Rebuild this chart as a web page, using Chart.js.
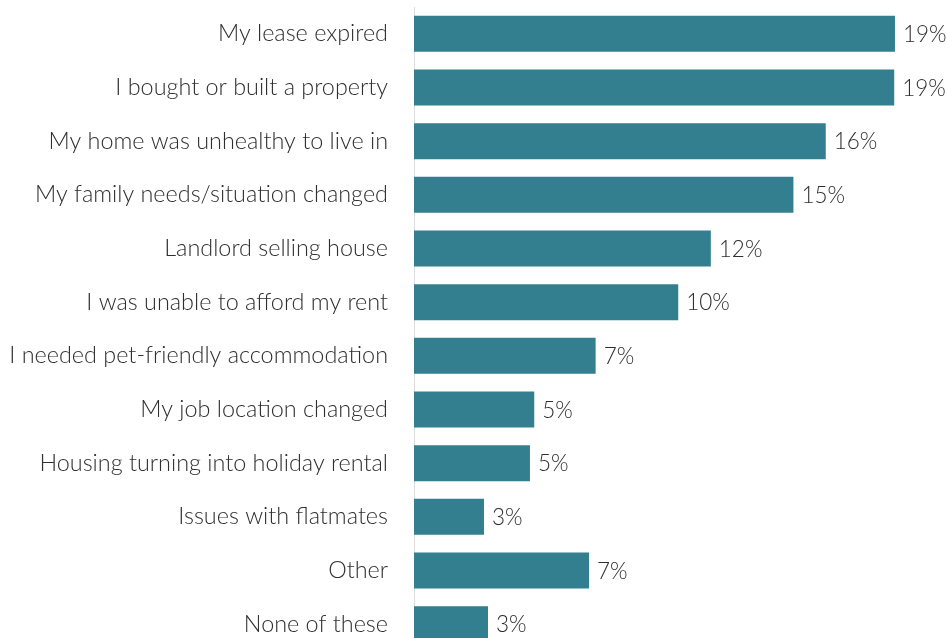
<!DOCTYPE html>
<html>
<head>
<meta charset="utf-8">
<script src="https://cdn.jsdelivr.net/npm/chart.js@4"></script>
<style>
  html, body { margin: 0; padding: 0; background: #fff; overflow: hidden; }
  #wrap { position: relative; width: 946px; height: 660px; }
</style>
</head>
<body>
<div id="wrap"><canvas id="chart"></canvas></div>
<script>
const reasons = [
  "My lease expired",
  "I bought or built a property",
  "My home was unhealthy to live in",
  "My family needs/situation changed",
  "Landlord selling house",
  "I was unable to afford my rent",
  "I needed pet-friendly accommodation",
  "My job location changed",
  "Housing turning into holiday rental",
  "Issues with flatmates",
  "Other",
  "None of these"
];
const share = [19.04, 19.01, 16.3, 15.02, 11.75, 10.46, 7.19, 4.76, 4.59, 2.77, 6.93, 2.93];

const FONT = "Lato, 'Noto Sans', sans-serif";

const valueLabels = {
  id: "valueLabels",
  afterDatasetsDraw(chart) {
    const ctx = chart.ctx;
    const meta = chart.getDatasetMeta(0);
    ctx.save();
    ctx.font = "300 22.5px " + FONT;
    ctx.fillStyle = "#2e2e2e";
    ctx.textBaseline = "middle";
    ctx.textAlign = "left";
    meta.data.forEach((bar, i) => {
      ctx.fillText(Math.round(share[i]) + "%", bar.x + 8, bar.y + 1);
    });
    ctx.restore();
  }
};

new Chart(document.getElementById("chart"), {
  type: "bar",
  data: {
    labels: reasons,
    datasets: [{
      data: share,
      backgroundColor: "#337e8f",
      borderWidth: 0,
      categoryPercentage: 1,
      barPercentage: 0.67
    }]
  },
  options: {
    indexAxis: "y",
    responsive: true,
    maintainAspectRatio: false,
    animation: false,
    layout: { padding: { top: 7, bottom: 9, left: 0, right: 0 } },
    plugins: {
      legend: { display: false },
      tooltip: { enabled: false }
    },
    scales: {
      x: { display: false, min: 0, max: 21.06 },
      y: {
        afterFit: scale => {
          scale.width = 414;
          scale.paddingTop = 0;
          scale.paddingBottom = 0;
        },
        grid: { display: true, color: "transparent", drawTicks: false },
        border: { display: true, color: "#dcdcdc", width: 1 },
        ticks: {
          padding: 26,
          color: "#2e2e2e",
          font: { family: FONT, size: 23.4, weight: "300" }
        }
      }
    }
  },
  plugins: [valueLabels]
});
</script>
</body>
</html>
